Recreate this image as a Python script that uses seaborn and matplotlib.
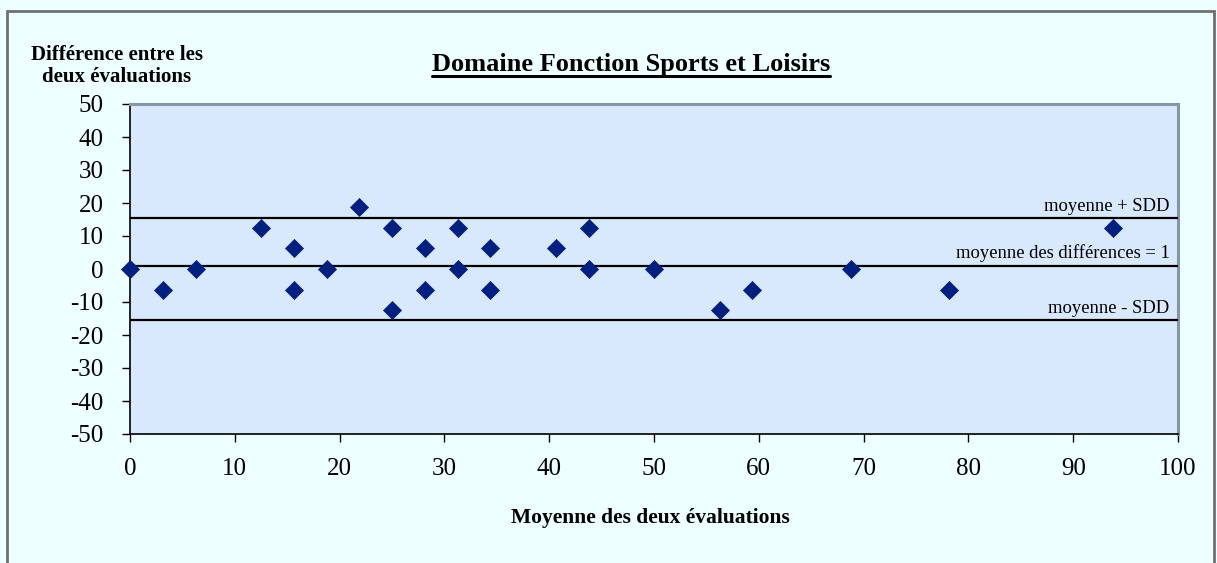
import matplotlib
matplotlib.use("Agg")
import matplotlib.pyplot as plt
from matplotlib.lines import Line2D
from matplotlib.patches import Rectangle
import seaborn as sns
import pandas as pd

# Data
moyenne = [0, 3.125, 6.25, 12.5, 15.625, 15.625, 18.75, 21.875, 25, 25,
           28.125, 28.125, 31.25, 31.25, 34.375, 34.375, 40.625, 43.75, 43.75,
           50, 56.25, 59.375, 68.75, 78.125, 93.75]
difference = [0, -6.25, 0, 12.5, 6.25, -6.25, 0, 18.75, 12.5, -12.5,
              6.25, -6.25, 12.5, 0, 6.25, -6.25, 6.25, 12.5, 0,
              0, -12.5, -6.25, 0, -6.25, 12.5]
ref_values = [15.5, 1, -15.5]
ref_labels = ["moyenne + SDD", "moyenne des différences = 1", "moyenne - SDD"]
x_ticks = [0, 10, 20, 30, 40, 50, 60, 70, 80, 90, 100]
y_ticks = [50, 40, 30, 20, 10, 0, -10, -20, -30, -40, -50]

sns.set_theme(style="white")
plt.rcParams['font.family'] = ['Liberation Serif', 'DejaVu Serif']
plt.rcParams['text.color'] = 'black'
plt.rcParams['xtick.color'] = 'black'
plt.rcParams['ytick.color'] = 'black'

df = pd.DataFrame({"x": moyenne, "y": difference})

fig = plt.figure(figsize=(12.17, 5.63), dpi=100)
fig.patch.set_facecolor("#EEFFFF")
# outer frame
fig.add_artist(Rectangle((6.5 / 1217, -0.05), (1214 - 6.5) / 1217, 1.05 - 10.5 / 563,
                         transform=fig.transFigure, fill=False,
                         edgecolor="#707070", linewidth=2))

ax = fig.add_axes([130 / 1217, 1 - 434 / 563, (1178 - 130) / 1217, (434 - 104) / 563])
ax.set_facecolor("#D9E9FD")

sns.scatterplot(data=df, x="x", y="y", marker="D", s=85, color="#002080",
                edgecolor="#002080", linewidth=0.5, ax=ax, zorder=5, clip_on=False)

for v, lab in zip(ref_values, ref_labels):
    ax.axhline(v, color="black", linewidth=1.6, zorder=3)
    ax.text(99.2, v + 1.0, lab, ha="right", va="bottom", fontsize=13.4, color="black")

ax.set_xlim(0, 100)
ax.set_ylim(-50, 50)
ax.set_xticks(x_ticks)
ax.set_yticks(y_ticks)
ax.set_xticklabels([str(t) for t in x_ticks], fontsize=18, color="black")
ax.set_yticklabels([str(t) for t in y_ticks], fontsize=18, color="black")
ax.tick_params(axis="both", which="both", direction="out", length=6, width=1,
               color="black", bottom=True, left=True)
ax.tick_params(axis="x", pad=11.5)
ax.tick_params(axis="y", pad=13)
ax.set_xlabel("")
ax.set_ylabel("")

for side in ["left", "bottom"]:
    ax.spines[side].set_color("black")
    ax.spines[side].set_linewidth(1.2)
for side in ["top", "right"]:
    ax.spines[side].set_color("#8794AA")
    ax.spines[side].set_linewidth(2.2)

# Title (underlined)
title = fig.text(631 / 1217, 1 - 65 / 563, "Domaine Fonction Sports et Loisirs",
                 ha="center", va="center", fontsize=19, fontweight="bold", color="black")
fig.canvas.draw()
bb = title.get_window_extent(renderer=fig.canvas.get_renderer())
bbf = bb.transformed(fig.transFigure.inverted())
fig.add_artist(Line2D([bbf.x0, bbf.x1], [bbf.y0 + 1.0 / 563, bbf.y0 + 1.0 / 563],
                      transform=fig.transFigure, color="black", linewidth=2.2))

fig.text(117 / 1217, 1 - 66 / 563, "Différence entre les\ndeux évaluations",
         ha="center", va="center", fontsize=15, fontweight="bold", linespacing=1.2,
         color="black")
fig.text(650 / 1217, 1 - 518 / 563, "Moyenne des deux évaluations",
         ha="center", va="center", fontsize=15.5, fontweight="bold", color="black")

fig.savefig("out.png", dpi=100, facecolor=fig.get_facecolor())
